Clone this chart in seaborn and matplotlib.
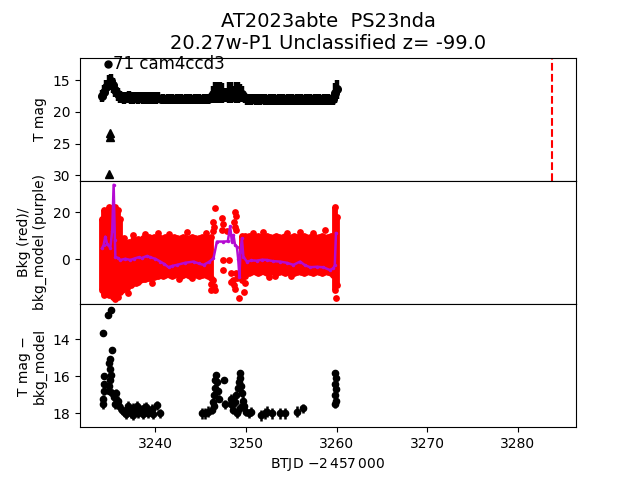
import matplotlib
matplotlib.use("Agg")
import matplotlib.pyplot as plt
import seaborn as sns
import numpy as np
import pandas as pd

title = "AT2023abte  PS23nda\n20.27w-P1 Unclassified z= -99.0"
label_text = "71 cam4ccd3"
xlabel = r"BTJD $-2\,457\,000$"
ylabels = ["T mag", "Bkg (red)/\nbkg_model (purple)", "T mag \u2212\nbkg_model"]
dash_t = 3283.7

# time grid of the light curve (BTJD - 2457000)
t_grid = [3234.10, 3234.35, 3234.60, 3234.85, 3235.10, 3235.35, 3235.60, 3235.85, 3236.10,
          3236.35, 3236.60, 3236.85, 3237.10, 3237.35, 3237.60, 3237.85, 3238.10, 3238.35,
          3238.60, 3238.85, 3239.10, 3239.35, 3239.60, 3239.85, 3240.10, 3240.35,
          3240.60, 3240.85, 3241.10, 3241.35, 3241.60, 3241.85, 3242.10, 3242.35, 3242.60,
          3242.85, 3243.10, 3243.35, 3243.60, 3243.85, 3244.10, 3244.35, 3244.60, 3244.85,
          3245.10, 3245.35, 3245.60, 3245.85, 3246.10,
          3246.35, 3246.60, 3246.85, 3247.10, 3247.35, 3247.60, 3247.85, 3248.10, 3248.35,
          3248.60, 3248.85, 3249.10, 3249.35, 3249.60, 3249.85,
          3250.10, 3250.35, 3250.60, 3250.85, 3251.10, 3251.35, 3251.60, 3251.85, 3252.10,
          3252.35, 3252.60, 3252.85, 3253.10, 3253.35, 3253.60, 3253.85, 3254.10, 3254.35,
          3254.60, 3254.85, 3255.10, 3255.35, 3255.60, 3255.85, 3256.10, 3256.35, 3256.60,
          3256.85, 3257.10, 3257.35, 3257.60, 3257.85, 3258.10, 3258.35, 3258.60, 3258.85,
          3259.10, 3259.35, 3259.60, 3259.85, 3260.00]

# top panel: T mag and its error
tmag = [17.5, 16.9, 16.1, 15.4, 15.1, 15.8, 16.6, 17.2, 17.6,
        17.70, 17.80, 17.75, 17.70, 17.80, 17.75, 17.70, 17.80, 17.75,
        17.80, 17.70, 17.75, 17.80, 17.75, 17.70, 17.80, 17.75,
        17.95, 17.90, 18.00, 17.95, 17.90, 17.95, 18.00, 17.95, 17.90,
        17.95, 18.00, 17.95, 17.90, 17.95, 18.00, 17.95, 17.90, 17.95,
        18.00, 17.95, 17.90, 17.95, 17.80,
        17.2, 16.9, 16.9, 16.9, 17.0, 17.3, 17.3, 16.9, 16.9,
        17.2, 16.9, 16.9, 17.0, 17.2, 17.8,
        18.00, 18.05, 18.00, 17.95, 18.00, 18.05, 18.00, 17.95, 18.00,
        18.05, 18.00, 17.95, 18.00, 18.05, 18.00, 17.95, 18.00, 18.05,
        18.00, 17.95, 18.00, 18.05, 18.00, 17.95, 18.00, 18.05, 18.00,
        17.95, 18.00, 18.05, 18.00, 17.95, 18.00, 18.05, 18.00, 17.95,
        18.00, 18.05, 18.00, 17.0, 16.4]
tmag_err = [0.9, 1.1, 1.2, 1.2, 1.1, 1.2, 1.1, 1.0, 0.95,
            0.9, 0.95, 0.9, 0.95, 0.9, 0.95, 0.9, 0.95, 0.9,
            0.95, 0.9, 0.95, 0.9, 0.95, 0.9, 0.95, 0.9,
            0.7, 0.75, 0.7, 0.75, 0.7, 0.75, 0.7, 0.75, 0.7,
            0.75, 0.7, 0.75, 0.7, 0.75, 0.7, 0.75, 0.7, 0.75,
            0.7, 0.75, 0.7, 0.75, 0.85,
            1.3, 1.65, 1.65, 1.65, 1.6, 1.1, 1.1, 1.65, 1.65,
            1.3, 1.65, 1.65, 1.5, 1.3, 0.85,
            0.85, 0.8, 0.85, 0.8, 0.85, 0.8, 0.85, 0.8, 0.85,
            0.8, 0.85, 0.8, 0.85, 0.8, 0.85, 0.8, 0.85, 0.8,
            0.85, 0.8, 0.85, 0.8, 0.85, 0.8, 0.85, 0.8, 0.85,
            0.8, 0.85, 0.8, 0.85, 0.8, 0.85, 0.8, 0.85, 0.8,
            0.85, 0.8, 0.9, 1.6, 1.5]
bright_t = [3234.82]
bright_mag = [12.4]
lim_t = [3235.04, 3235.04, 3234.86]
lim_mag = [23.3, 24.0, 29.9]

# middle panel: background spread (low / high) per grid time
nan = float("nan")
bkg_lo = [-13, -15, -14, -15, -13, -16, -17, -16, -14,
          -13, -12.5, -12, -11, -11, -10, -10, -9.5, -9,
          -8.5, -8.5, -8, -8, -7.5, -7.5, -7, -7,
          -6.5, -7, -6.5, -6, -6.5, -7, -6.5, -6, -6.5,
          -7, -6.5, -6, -6.5, -7, -6.5, -6, -6.5, -7,
          -6.5, -6, -6.5, -7, -8,
          nan, nan, nan, nan, nan, nan, nan, nan, nan,
          nan, nan, nan, nan, -9, -7,
          -5.5, -6, -5.5, -5, -5.5, -6, -5.5, -5, -5.5,
          -6, -5.5, -5, -5.5, -6, -5.5, -5, -5.5, -6,
          -5.5, -5, -5.5, -6, -5.5, -5, -5.5, -6, -5.5,
          -5, -5.5, -6, -5.5, -5, -5.5, -6, -5.5, -5,
          -5.5, -6, -6.5, -13, -11]
bkg_hi = [17, 21, 20, 22, 20, 21, 22, 21, 17,
          7, 6.5, 7, 7.5, 7, 8, 7.5, 8.5, 8,
          9, 8.5, 9, 9.5, 9, 9.5, 9, 9.5,
          9, 8.5, 9.5, 9, 8.5, 9, 9.5, 9, 8.5,
          9, 9.5, 9, 8.5, 9, 9.5, 9, 8.5, 9,
          9.5, 9, 8.5, 9, 9.5,
          nan, nan, nan, nan, nan, nan, nan, nan, nan,
          nan, nan, nan, nan, 10, 10,
          9.5, 10, 9.5, 9, 9.5, 10, 9.5, 9, 9.5,
          10, 9.5, 9, 9.5, 10, 9.5, 9, 9.5, 10,
          9.5, 9, 9.5, 10, 9.5, 9, 9.5, 10, 9.5,
          9, 9.5, 10, 9.5, 9, 9.5, 10, 9.5, 9,
          9.5, 10, 9.5, 22, 18]
bkg_out_t = [3246.6, 3246.4, 3246.45, 3246.4, 3247.4, 3247.45, 3247.35, 3247.5, 3247.5,
             3246.4, 3246.5, 3246.55, 3248.1, 3248.3, 3248.3, 3248.8, 3248.95, 3248.7,
             3248.75, 3248.95, 3248.55, 3248.65, 3248.75, 3248.9, 3249.0, 3249.2, 3249.85,
             3249.8, 3249.45, 3249.5, 3241.5, 3243.5, 3245.6, 3251.9, 3254.5, 3256.0,
             3258.7, 3237.6, 3259.9, 3246.15, 3246.1, 3237.0, 3252.5, 3255.0, 3244.0,
             3238.9, 3240.3, 3242.6, 3247.9, 3250.8, 3253.2, 3257.4, 3236.5, 3239.6]
bkg_out = [21.7, 16.0, 13.5, 12.0, 17.5, 15.0, 12.5, -0.3, -4.5,
           -9.0, -11.5, -13.0, -0.3, -6.0, -9.6, 20.0, 18.5, 16.0,
           13.5, 12.5, -9.0, -11.0, -12.5, -6.0, -8.0, -16.6, -10.0,
           -14.0, -2.0, -5.0, 10.8, 11.7, 11.3, 11.7, 11.3, 11.5,
           12.5, 10.5, -16.5, -13.0, -10.5, -14.5, -7.5, -7.3, -8.0,
           10.8, 11.0, -8.2, 12.0, 11.2, -7.2, 11.0, 9.0, -10.0]
model_t = [3234.13, 3234.30, 3234.49, 3234.70, 3235.04, 3235.25, 3235.41, 3235.55, 3235.60,
           3235.90, 3236.15, 3236.70, 3237.25, 3237.70, 3238.16, 3238.50, 3239.09, 3239.45,
           3240.00, 3240.55, 3241.00, 3241.46, 3241.90, 3242.39, 3243.30, 3244.22, 3244.80,
           3245.32, 3245.90, 3246.42, 3246.80, 3247.50, 3248.00, 3248.26, 3248.45, 3248.62,
           3248.80, 3249.00, 3249.15, 3249.28, 3249.40, 3249.55, 3249.72, 3250.10, 3250.60,
           3251.20, 3251.80, 3252.30, 3253.00, 3253.77, 3254.50, 3255.23, 3255.97, 3256.50,
           3257.07, 3257.80, 3258.53, 3259.27, 3259.64, 3259.80, 3259.93]
model_b = [4.7, 6.0, 9.6, 6.5, 4.8, 12.0, 31.6, 8.0, 1.1,
           0.5, -0.3, 0.2, -0.3, 0.3, 0.85, 0.5, 1.4, 0.85,
           0.2, -1.0, -2.0, -3.4, -2.8, -2.4, -1.5, -1.0, -1.8,
           -2.4, -1.2, 0.4, 7.5, 7.5, 7.6, 13.9, 7.5, 10.3,
           6.0, 5.4, 0.0, -7.4, 3.0, 8.9, 1.1, -1.0, -0.5,
           -0.6, -0.2, -0.3, -0.8, -1.0, -1.5, -2.4, -1.0, -2.5,
           -3.4, -3.2, -3.4, -4.6, -3.8, -2.5, 11.1]

# bottom panel: T mag - bkg_model
diff_t = [3234.24, 3234.75, 3235.12, 3235.23, 3235.00, 3234.90, 3235.00, 3235.10, 3235.00,
          3234.85, 3234.90, 3234.35, 3234.40, 3234.30, 3234.25, 3234.20, 3235.20, 3235.50,
          3235.70, 3235.90, 3235.60, 3236.00, 3236.30, 3236.60, 3236.80, 3237.10, 3237.30,
          3237.60, 3237.80, 3238.10, 3238.40, 3238.60, 3238.90, 3239.20, 3239.50, 3239.80,
          3237.00, 3237.50, 3238.00, 3238.80, 3239.00, 3239.60,
          3240.20, 3240.50, 3245.14, 3245.50, 3245.87,
          3246.30, 3246.35, 3246.45, 3246.55, 3246.60, 3246.70, 3246.80, 3246.90, 3247.00,
          3246.50, 3247.60, 3247.70,
          3248.30, 3248.40, 3248.60, 3248.80, 3248.90, 3249.10, 3249.20, 3249.30, 3249.35,
          3249.50, 3249.60, 3249.70, 3249.80, 3250.00, 3250.30, 3250.60, 3249.00, 3249.40,
          3251.67, 3252.10, 3252.37, 3252.85, 3253.77, 3254.32, 3255.60, 3256.26,
          3259.85, 3259.90, 3259.85, 3259.90, 3259.85, 3259.90, 3259.85]
diff_mag = [13.68, 12.69, 12.42, 14.58, 15.05, 15.30, 15.60, 15.90, 16.20,
            16.50, 16.80, 16.00, 16.40, 16.80, 17.20, 17.50, 16.90, 17.10,
            16.90, 17.30, 17.50, 17.60, 17.80, 17.90, 18.05, 17.80, 18.00,
            18.10, 17.90, 18.00, 17.80, 18.05, 17.90, 18.00, 17.90, 18.05,
            17.60, 17.70, 17.60, 17.70, 17.65, 17.75,
            17.55, 18.00, 18.00, 18.00, 17.90,
            17.80, 17.40, 17.00, 16.60, 16.20, 15.90, 16.30, 16.80, 17.20,
            17.60, 16.20, 17.50,
            17.20, 17.50, 17.80, 17.40, 17.00, 16.60, 16.30, 15.80, 16.10,
            16.50, 16.90, 17.30, 17.60, 17.90, 18.00, 17.90, 18.00, 17.70,
            18.10, 18.00, 17.90, 18.00, 18.00, 18.00, 17.90, 17.73,
            15.80, 16.10, 16.40, 16.70, 17.00, 17.30, 17.50]
diff_err = [0.05, 0.05, 0.05, 0.08, 0.10, 0.12, 0.12, 0.12, 0.15,
            0.15, 0.15, 0.15, 0.15, 0.20, 0.20, 0.25, 0.20, 0.20,
            0.20, 0.25, 0.25, 0.25, 0.25, 0.25, 0.25, 0.25, 0.25,
            0.25, 0.25, 0.25, 0.25, 0.25, 0.25, 0.25, 0.25, 0.25,
            0.25, 0.25, 0.25, 0.25, 0.25, 0.25,
            0.25, 0.25, 0.30, 0.30, 0.30,
            0.25, 0.20, 0.20, 0.15, 0.15, 0.12, 0.15, 0.20, 0.20,
            0.25, 0.15, 0.25,
            0.25, 0.25, 0.25, 0.25, 0.20, 0.20, 0.15, 0.12, 0.15,
            0.15, 0.20, 0.25, 0.25, 0.25, 0.25, 0.25, 0.25, 0.25,
            0.30, 0.30, 0.30, 0.30, 0.30, 0.30, 0.30, 0.25,
            0.15, 0.15, 0.15, 0.15, 0.15, 0.15, 0.20]

bkg_df = pd.DataFrame({"t": t_grid, "lo": bkg_lo, "hi": bkg_hi})
out_df = pd.DataFrame({"t": bkg_out_t, "b": bkg_out})
model_df = pd.DataFrame({"t": model_t, "b": model_b})

fig, axes = plt.subplots(3, 1, sharex=True, figsize=(6.4, 4.8), dpi=100)
fig.subplots_adjust(hspace=0)
ax1, ax2, ax3 = axes

# top panel
ax1.errorbar(t_grid, tmag, yerr=tmag_err, fmt="o", color="k", ms=5.5,
             elinewidth=3.2, capsize=0)
ax1.plot(bright_t, bright_mag, "o", color="k", ms=5)
ax1.plot(lim_t, lim_mag, "^", color="k", ms=6, ls="none")
ax1.axvline(dash_t, color="red", ls="--", lw=1.5)
ax1.set_ylim(30.9, 11.4)
ax1.set_yticks([15, 20, 25, 30])
ax1.set_ylabel(ylabels[0])
ax1.text(0.066, 0.95, label_text, transform=ax1.transAxes, fontsize=12,
         va="center", ha="left")
ax1.set_title(title, fontsize=14)

# middle panel
valid = bkg_df.dropna()
ax2.vlines(valid["t"], valid["lo"], valid["hi"], color="red", lw=4.2, zorder=2)
sns.scatterplot(data=valid, x="t", y="lo", color="red", s=24, linewidth=0,
                ax=ax2, zorder=2)
sns.scatterplot(data=valid, x="t", y="hi", color="red", s=24, linewidth=0,
                ax=ax2, zorder=2)
sns.scatterplot(data=out_df, x="t", y="b", color="red", s=24, linewidth=0,
                ax=ax2, zorder=2)
sns.lineplot(data=model_df, x="t", y="b", color="#b40ad2", lw=1.8,
             estimator=None, sort=True, ax=ax2, zorder=3,
             marker="o", markersize=2.5, markeredgewidth=0)
ax2.set_ylim(-19, 33.3)
ax2.set_yticks([0, 20])
ax2.set_ylabel(ylabels[1])
ax2.set_xlabel("")

# bottom panel
ax3.errorbar(diff_t, diff_mag, yerr=diff_err, fmt="o", color="k", ms=4.5,
             elinewidth=1.8, capsize=0)
ax3.set_ylim(18.74, 12.09)
ax3.set_yticks([14, 16, 18])
ax3.set_ylabel(ylabels[2])

ax3.set_xlim(3231.7, 3286.4)
ax3.set_xticks([3240, 3250, 3260, 3270, 3280])
ax3.set_xlabel(xlabel)

fig.savefig("out.png", dpi=100)
